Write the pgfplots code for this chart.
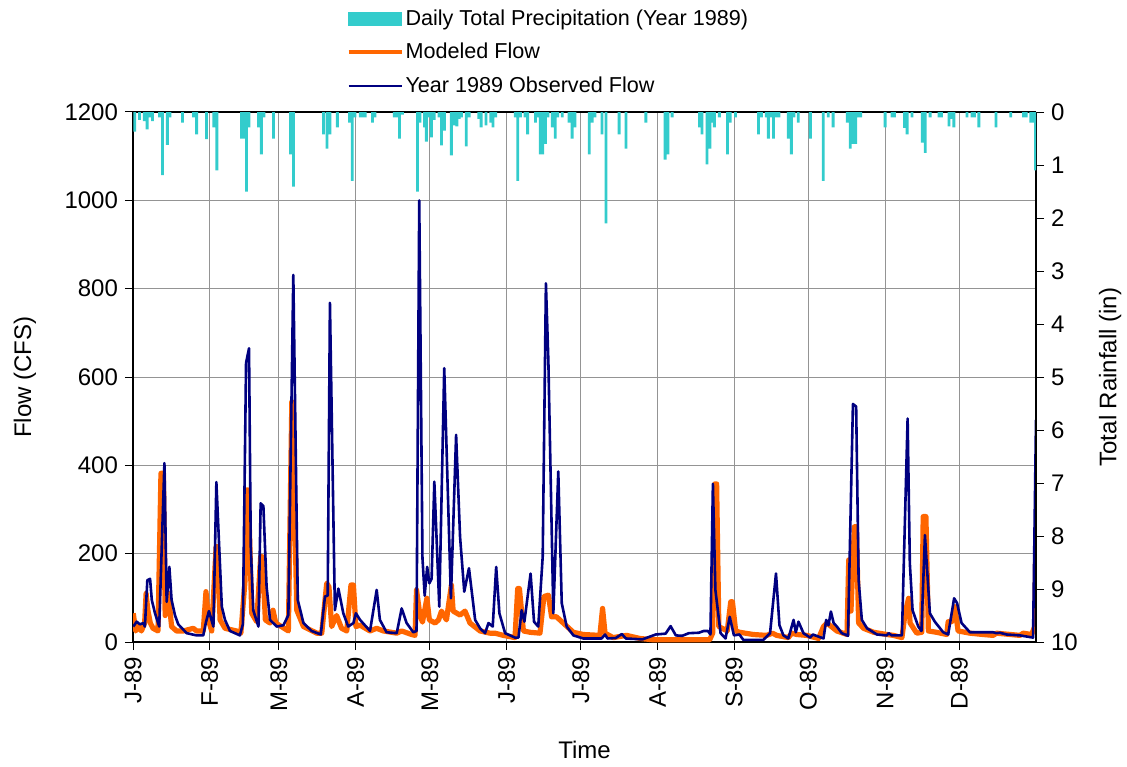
\documentclass[border=0pt]{standalone}
\usepackage{pgfplots}
\pgfplotsset{compat=1.18}
\usepackage{pgfplotstable}
\usepackage{fontspec}
\setmainfont{Liberation Sans}

\definecolor{rain}{RGB}{51,204,204}
\definecolor{model}{RGB}{255,102,0}
\definecolor{obs}{RGB}{0,0,128}

\pgfplotsset{
  lineleg/.style={legend image code/.code={\draw[##1] (0pt,0pt) -- (26.5pt,0pt);}},
  barleg/.style={legend image code/.code={\fill[rain] (0pt,-3.25pt) rectangle (26.5pt,3.25pt);}},
}

% daily precipitation (in), day of year
\pgfplotstableread{
day in
1.7 0.37
3.6 0.15
5.6 0.17
6.7 0.33
7.9 0.10
8.9 0.17
11.7 0.10
12.9 1.19
14.9 0.62
15.9 0.10
21.0 0.20
25.5 0.10
26.7 0.42
30.7 0.51
33.7 0.29
34.9 1.10
44.9 0.50
45.9 0.50
46.9 1.50
47.9 0.29
51.7 0.29
52.9 0.80
53.9 0.10
57.8 0.50
64.7 0.80
65.9 1.41
78.0 0.42
79.4 0.69
80.6 0.42
83.6 0.29
88.5 0.20
89.6 1.30
90.7 0.10
92.9 0.10
93.9 0.10
94.9 0.10
97.8 0.20
98.8 0.10
106.6 0.10
107.6 0.10
108.7 0.50
109.9 0.05
116.0 1.50
117.0 0.20
118.8 0.29
119.6 0.56
120.7 0.10
121.6 0.48
122.7 0.15
124.7 0.10
125.7 0.63
126.9 0.35
129.7 0.82
130.9 0.25
131.9 0.27
132.9 0.13
133.8 0.10
135.7 0.65
136.9 0.10
140.8 0.13
141.7 0.29
143.7 0.25
145.6 0.20
146.5 0.29
147.6 0.10
155.5 0.10
156.5 1.30
157.6 0.10
159.5 0.10
160.5 0.42
163.7 0.20
164.7 0.10
165.6 0.80
166.6 0.80
167.7 0.60
168.7 0.10
170.5 0.29
171.7 0.50
172.7 0.10
174.5 0.10
177.3 0.20
178.5 0.50
179.6 0.29
185.4 0.80
186.6 0.20
187.7 0.10
190.6 0.42
192.2 2.10
197.5 0.42
200.3 0.69
208.3 0.20
216.1 0.90
217.2 0.80
218.9 0.10
230.0 0.29
231.0 0.42
233.0 0.99
234.2 0.69
235.2 0.20
236.0 0.29
238.0 0.10
241.3 0.80
242.4 0.20
244.5 0.10
253.8 0.42
255.0 0.10
257.0 0.10
257.8 0.50
259.0 0.10
259.9 0.50
261.1 0.10
262.1 0.10
265.9 0.50
267.1 0.80
268.2 0.10
269.9 0.20
274.8 0.50
280.0 1.30
282.0 0.10
284.0 0.29
289.7 0.20
290.9 0.69
292.1 0.60
293.1 0.60
294.1 0.10
295.1 0.10
305.0 0.29
307.8 0.10
308.8 0.10
312.9 0.30
313.9 0.42
315.9 0.10
320.0 0.58
321.2 0.77
323.2 0.10
326.8 0.10
327.8 0.10
330.8 0.27
331.8 0.13
332.8 0.29
338.1 0.10
340.1 0.10
341.1 0.10
342.9 0.29
349.8 0.29
355.8 0.10
361.0 0.10
362.0 0.10
363.9 0.20
364.9 0.20
365.8 1.10
}\raintable

% modeled flow (cfs)
\pgfplotstableread{
day q
1.1 65
2.1 25
3.0 35
4.4 25
5.7 43
6.3 110
7.0 72
8.0 43
9.1 31
11.1 25
12.3 382
13.3 382
14.0 60
15.3 110
16.6 35
18.6 25
21.3 25
25.4 31
26.7 25
29.4 25
30.5 114
31.5 50
32.8 25
34.6 216
35.1 216
36.2 50
38.2 31
42.9 25
44.6 20
46.3 140
46.9 344
47.6 344
49.0 65
51.0 46
52.6 193
53.3 193
54.5 50
56.4 43
57.6 72
58.7 43
63.8 25
65.2 544
66.1 370
67.2 72
69.9 35
75.3 20
77.3 20
79.3 133
80.2 125
81.3 35
83.3 60
85.3 31
87.4 25
89.1 129
90.1 129
91.1 35
92.8 38
96.8 25
99.5 31
102.2 25
107.6 20
109.6 25
113.6 17
115.0 15
115.6 118
117.0 60
118.0 45
119.8 99
120.8 50
123.1 43
124.5 50
125.7 70
127.7 50
129.7 129
130.4 70
133.2 61
135.2 70
137.2 43
141.3 25
145.3 20
147.3 20
150.7 15
155.4 10
156.5 121
157.2 121
158.8 25
161.5 22
165.5 20
167.1 103
168.9 106
170.2 57
172.2 57
174.9 43
179.0 22
183.0 17
189.7 15
190.8 76
191.8 20
195.1 10
200.5 15
205.9 8
211.3 5
219.3 5
234.1 5
235.3 20
236.2 358
236.9 358
237.8 35
241.2 25
242.6 91
243.3 91
244.6 25
246.3 22
251.7 17
257.1 15
259.5 20
261.2 15
265.9 10
267.3 20
269.3 17
273.3 15
278.1 8
280.1 35
281.5 43
285.5 25
289.6 17
290.3 186
291.2 70
292.6 261
293.4 261
294.3 43
296.3 31
300.4 22
305.7 17
308.4 15
311.8 10
313.1 65
314.5 99
315.1 43
317.8 20
319.8 22
320.4 284
321.5 284
322.5 25
325.8 22
329.9 17
330.5 46
331.9 46
333.2 80
334.5 25
339.3 20
344.6 17
348.7 15
350.0 20
359.5 15
360.8 20
364.2 17
365.5 35
366.0 254
}\modeltable

% observed flow (cfs)
\pgfplotstableread{
day q
1.1 35
2.5 46
3.8 40
5.2 43
5.8 35
6.8 140
7.9 143
8.6 95
9.9 65
11.6 35
13.7 405
14.6 91
15.7 170
16.6 95
18.0 60
19.3 40
22.7 20
26.7 15
29.4 15
30.5 45
31.7 70
33.5 35
34.7 362
36.9 80
38.2 50
40.2 25
44.2 15
45.4 40
46.7 632
47.9 665
48.6 216
49.6 72
51.7 35
52.6 314
53.7 308
55.0 125
56.4 50
59.1 35
61.8 38
63.8 61
65.8 831
67.6 95
69.9 43
73.2 25
76.9 17
78.6 103
79.7 105
80.6 768
82.6 72
84.0 121
86.0 65
88.0 35
90.1 43
91.1 65
92.8 50
96.8 25
99.5 118
100.8 50
103.5 22
107.6 20
109.6 76
111.6 43
114.3 22
115.6 25
116.7 1000
118.0 190
118.9 105
119.9 170
120.8 133
121.7 143
122.8 363
124.8 80
126.8 620
129.5 99
131.6 469
133.2 238
134.9 114
136.8 167
139.3 50
141.3 31
143.3 20
144.7 43
146.4 35
147.8 170
149.1 65
151.4 20
155.4 10
156.8 10
158.1 72
159.2 46
161.7 155
163.1 46
164.8 35
166.6 193
167.9 812
168.9 635
170.9 65
172.9 386
174.3 88
176.3 35
179.0 15
183.0 8
190.4 8
191.8 17
192.8 8
196.1 9
198.6 18
200.2 8
206.9 6
212.3 17
216.3 19
218.3 36
220.4 15
223.0 14
225.7 20
229.7 21
231.7 25
233.4 25
234.4 17
235.4 358
236.4 118
238.5 20
240.5 8
242.2 57
243.9 15
246.1 17
247.7 5
255.8 5
258.5 20
260.9 155
262.3 38
263.9 15
265.9 8
268.0 50
268.9 22
270.0 46
272.0 20
274.7 10
275.8 17
280.1 8
281.2 50
282.1 38
283.1 69
284.2 43
285.5 35
287.5 20
290.0 14
292.0 539
293.3 533
294.3 140
295.6 50
297.7 31
301.7 17
305.7 15
306.4 20
307.7 15
311.8 15
314.1 506
315.0 178
316.1 72
318.4 35
319.7 25
321.1 242
323.1 65
325.1 46
328.5 22
330.5 17
332.9 99
334.1 88
335.9 43
339.3 22
344.6 22
348.7 22
350.0 20
351.4 21
354.1 17
359.5 15
364.8 10
366.0 503
}\obstable

\begin{document}
\begin{tikzpicture}
\useasboundingbox (-66.5pt,-62pt) rectangle (497pt,321pt);

% flow axis (left)
\begin{axis}[
  scale only axis,
  width=451.5pt, height=265pt,
  xmin=1, xmax=366,
  ymin=0, ymax=1200,
  axis y line*=left,
  axis x line*=bottom,
  xtick={1,32,60,91,121,152,182,213,244,274,305,335},
  xticklabels={J-89,F-89,M-89,A-89,M-89,J-89,J-89,A-89,S-89,O-89,N-89,D-89},
  ytick={0,200,...,1200},
  grid=major,
  grid style={draw=black!42, line width=0.5pt},
  tick align=outside,
  major tick length=4pt,
  tick style={black, line width=0.5pt},
  axis line style={black, line width=0.6pt},
  /pgf/number format/assume math mode=true,
  /pgf/number format/1000 sep={},
  tick label style={font=\fontsize{12}{14}\selectfont},
  x tick label style={rotate=90, anchor=east},
  xlabel={Time},
  ylabel={Flow (CFS)},
  label style={font=\fontsize{12}{14}\selectfont},
  xlabel style={at={(axis description cs:0.5,-0.204)}, anchor=center},
  ylabel style={at={(axis description cs:-0.1196,0.5)}, anchor=center},
]
\addplot[model, line width=2.6pt, line join=round] table[x=day, y=q] {\modeltable};
\addplot[obs, line width=1.3pt, line join=round] table[x=day, y=q] {\obstable};
\end{axis}

% rainfall axis (right, reversed)
\begin{axis}[
  scale only axis,
  width=451.5pt, height=265pt,
  xmin=1, xmax=366,
  ymin=0, ymax=10,
  y dir=reverse,
  axis y line*=right,
  axis x line*=top,
  xtick=\empty,
  ytick={0,1,...,10},
  tick align=outside,
  major tick length=4pt,
  tick style={black, line width=0.5pt},
  axis line style={black, line width=0.6pt},
  /pgf/number format/assume math mode=true,
  tick label style={font=\fontsize{12}{14}\selectfont},
  ylabel={Total Rainfall (in)},
  ylabel style={font=\fontsize{12}{14}\selectfont, at={(axis description cs:1.082,0.5)}, anchor=center},
  legend style={at={(0.236,1.198)}, anchor=north west, draw=none, fill=none,
    font=\fontsize{10.8}{12}\selectfont, inner sep=0pt, row sep=5.5pt,
    nodes={inner sep=1pt}},
  legend cell align=left,
]
\addlegendimage{barleg}
\addlegendentry{Daily Total Precipitation (Year 1989)}
\addlegendimage{model, line width=2pt, lineleg}
\addlegendentry{Modeled Flow}
\addlegendimage{obs, line width=1pt, lineleg}
\addlegendentry{Year 1989 Observed Flow}
\addplot[ybar, bar width=1.15, fill=rain, draw=none, forget plot] table[x=day, y=in] {\raintable};
\end{axis}
\end{tikzpicture}
\end{document}
